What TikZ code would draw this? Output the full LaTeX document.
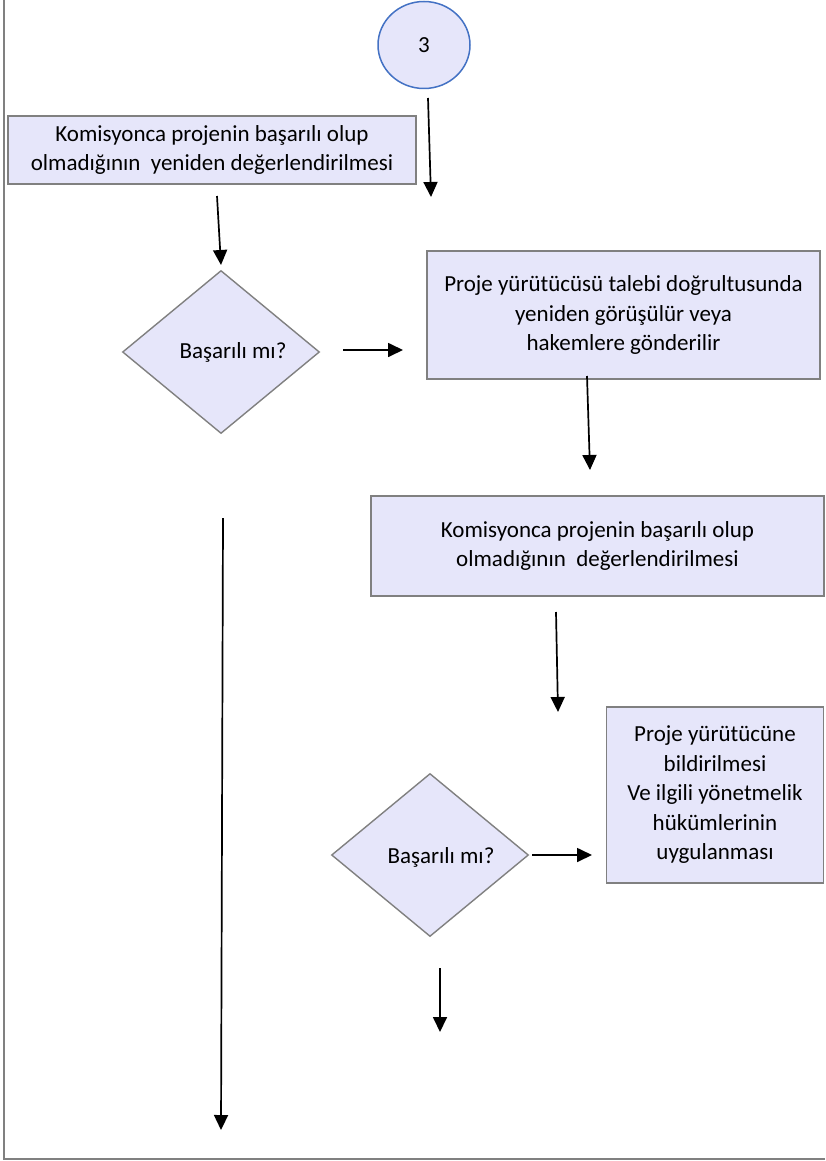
\documentclass[tikz,border=0pt]{standalone}
\usepackage{fontspec}
\setmainfont{Carlito}
\usetikzlibrary{shapes.geometric,arrows.meta}
\definecolor{boxfill}{RGB}{230,230,250}
\definecolor{boxline}{RGB}{128,128,128}
\definecolor{circline}{RGB}{68,114,196}
\begin{document}
\begin{tikzpicture}[x=1pt,y=-1pt,
  every node/.style={font=\fontsize{23}{29.5}\selectfont, inner sep=0pt},
  procbox/.style={draw=boxline, line width=1.6pt, fill=boxfill, rectangle, align=center},
  decision/.style={draw=boxline, line width=1.4pt, fill=boxfill, diamond, minimum width=197pt, minimum height=163pt},
  connector/.style={draw=circline, line width=1.5pt, fill=boxfill, ellipse, minimum width=92pt, minimum height=87pt},
  flow/.style={line width=1.7pt, -{Triangle[length=15pt,width=14pt]}},
  frame/.style={draw=boxline, line width=1.5pt}]
\useasboundingbox (0,0) rectangle (825,1161);
\fill[white] (0,0) rectangle (825,1161);
% frame lines
\coordinate (ftop) at (4,0);
\coordinate (fcorner) at (4,1159);
\coordinate (fright) at (825,1159);
\draw[frame] (ftop) -- (fcorner) -- (fright);
% nodes
\node[connector] (c3) at (424,45) {3};
\node[procbox, minimum width=408pt, minimum height=68pt] (b1) at (212,150)
  {Komisyonca projenin başarılı olup\\olmadığının\ \ yeniden değerlendirilmesi};
\node[decision] (d1) at (221,352) {};
\node at (233,352) (d1t) {Başarılı mı?};
\node[procbox, minimum width=393pt, minimum height=128pt] (b2) at (623.5,315)
  {Proje yürütücüsü talebi doğrultusunda\\yeniden görüşülür veya\\hakemlere gönderilir};
\node[procbox, minimum width=453pt, minimum height=100pt] (b3) at (597.5,546)
  {Komisyonca projenin başarılı olup\\olmadığının\ \ değerlendirilmesi};
\node[procbox, minimum width=217pt, minimum height=176pt] (b4) at (715,795)
  {Proje yürütücüne\\bildirilmesi\\Ve ilgili yönetmelik\\hükümlerinin\\uygulanması};
\node[decision] (d2) at (430,855) {};
\node at (441,857) (d2t) {Başarılı mı?};
% connector end points
\coordinate (a1s) at (428,98);  \coordinate (a1e) at (431,197);
\coordinate (a2s) at (217,196); \coordinate (a2e) at (221,265);
\coordinate (a3s) at (343,350); \coordinate (a3e) at (403,350);
\coordinate (a4s) at (587,376); \coordinate (a4e) at (590,470);
\coordinate (a5s) at (556,612); \coordinate (a5e) at (558,712);
\coordinate (a6s) at (532,855); \coordinate (a6e) at (592,855);
\coordinate (a7s) at (440,968); \coordinate (a7e) at (440,1032);
\coordinate (a8s) at (223,518); \coordinate (a8e) at (221,1130);
\draw[flow] (a1s) -- (a1e);
\draw[flow] (a2s) -- (a2e);
\draw[flow] (a3s) -- (a3e);
\draw[flow] (a4s) -- (a4e);
\draw[flow] (a5s) -- (a5e);
\draw[flow] (a6s) -- (a6e);
\draw[flow] (a7s) -- (a7e);
\draw[flow] (a8s) -- (a8e);
\end{tikzpicture}
\end{document}
